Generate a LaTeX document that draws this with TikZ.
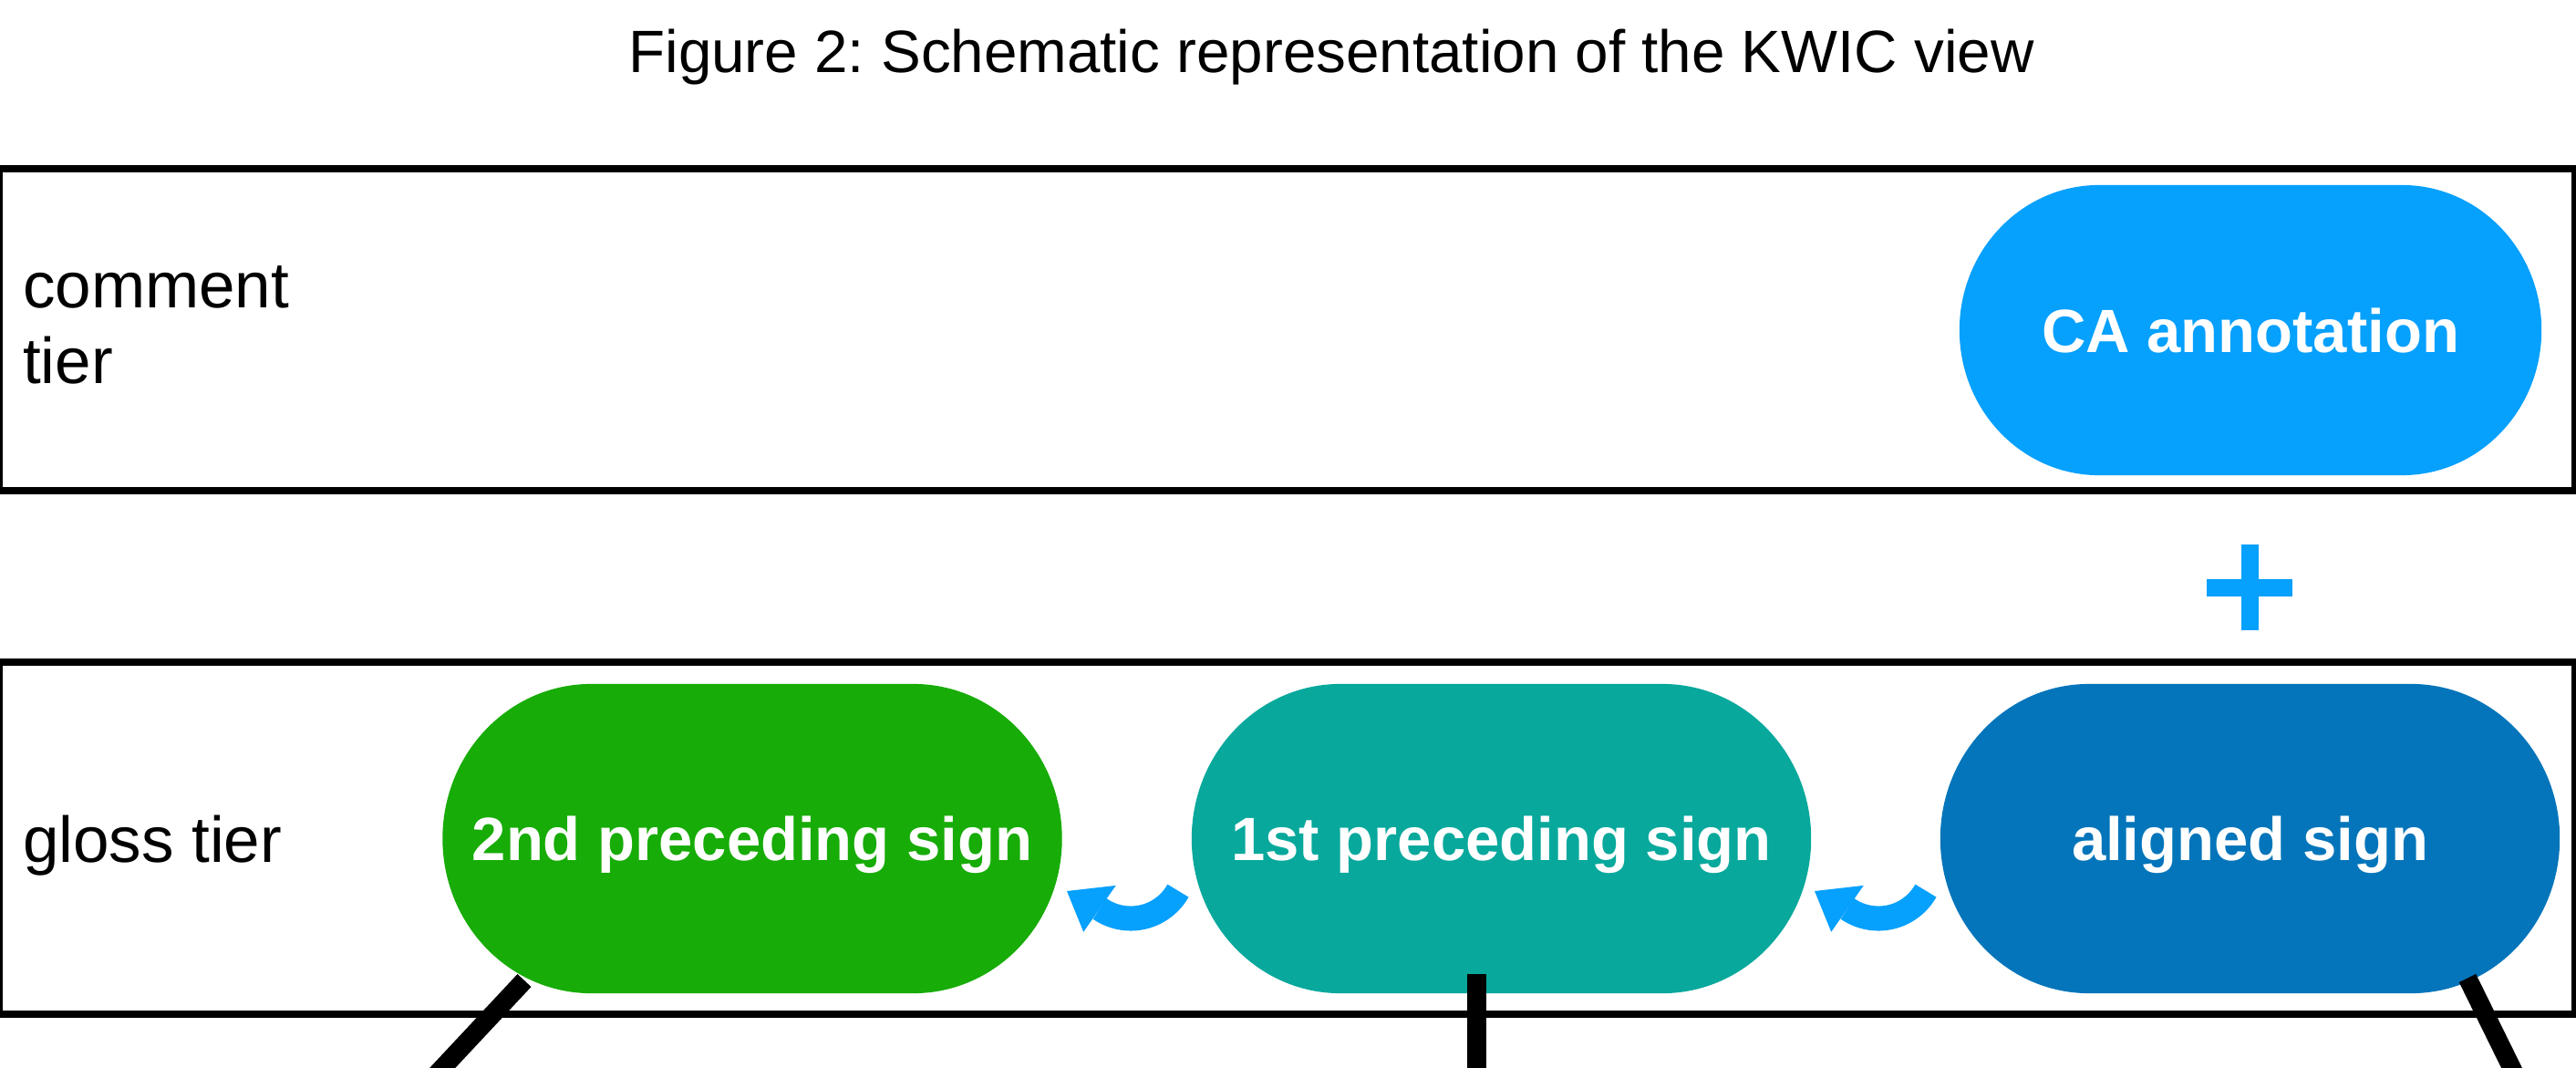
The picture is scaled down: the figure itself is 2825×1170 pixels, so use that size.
\documentclass[tikz,border=0pt]{standalone}
\usepackage{fontspec}
\setmainfont{Liberation Sans}
\usetikzlibrary{calc,backgrounds}
\frenchspacing
\definecolor{cablue}{RGB}{6,160,253}
\definecolor{grtwo}{RGB}{23,172,7}
\definecolor{tealone}{RGB}{8,168,156}
\definecolor{alblue}{RGB}{4,117,186}
\newcommand\titlefont{\fontsize{18.64pt}{23.6pt}\selectfont}
\newcommand\regfont{\fontsize{20.2pt}{23.6pt}\selectfont}
\newcommand\pillfont{\fontsize{19.06pt}{23pt}\selectfont\bfseries}
% stadium with elliptic ends behind a node: node, colour, x radius, y radius
\newcommand\pillfill[4]{%
  \fill[#2] ($(#1.north west)+(#3,0)$) -- ($(#1.north east)+(-#3,0)$)
    arc[start angle=90,end angle=-90,x radius=#3,y radius=#4]
    -- ($(#1.south west)+(#3,0)$)
    arc[start angle=270,end angle=90,x radius=#3,y radius=#4] -- cycle;}
% curled arrow around a centre coordinate
\newcommand\curlarrow[1]{%
  \draw[cablue, line width=0.27cm] ($(#1)+(-29.3:0.595cm)$)
    arc[start angle=-29.3, end angle=-124.9, radius=0.595cm];
  \fill[cablue] ($(#1)+(-124.9:0.285cm)$) -- ($(#1)+(-124.9:0.905cm)$)
    -- ($(#1)+(-70,-29.5)$) -- cycle;}
\tikzset{
  tierbox/.style={draw=black, line width=0.086cm, inner sep=0pt, outer sep=0pt, minimum width=28.23cm},
  pill/.style={inner sep=0pt, outer sep=0pt, text=white, font=\pillfont, text height=13.65pt, text depth=0pt},
  glosspill/.style={pill, minimum width=6.79cm, minimum height=3.39cm},
  label/.style={inner sep=0pt, outer sep=0pt, font=\regfont, text=black},
  bar/.style={draw=black, line width=0.205cm},
  plusbar/.style={draw=cablue, line width=0.19cm}
}
\begin{document}
\begin{tikzpicture}[x=0.01cm, y=0.01cm]
\useasboundingbox (0,0) rectangle (2825,-1170);

% title
\node[label, font=\titlefont, anchor=base] (title) at (1460,-80) {Figure 2: Schematic representation of the KWIC view};

% tier boxes
\node[tierbox, minimum height=3.53cm] (cbox) at (1411.5,-361.5) {};
\node[tierbox, minimum height=3.86cm] (gbox) at (1411.5,-919) {};

% tier labels
\node[label, anchor=base west, align=left] (ctier) at (25,-420) {comment\\tier};
\node[label, anchor=base west] (gtier) at (25,-945) {gloss tier};

% pills
\node[pill, minimum width=6.38cm, minimum height=3.18cm] (ca) at (2468,-362) {CA annotation};
\node[glosspill] (p2) at (825,-919.5) {2nd preceding sign};
\node[glosspill] (p1) at (1646.5,-919.5) {1st preceding sign};
\node[glosspill] (al) at (2467.5,-919.5) {aligned sign};

\begin{scope}[on background layer]
  \pillfill{ca}{cablue}{1.53cm}{1.59cm}
  \pillfill{p2}{grtwo}{1.63cm}{1.695cm}
  \pillfill{p1}{tealone}{1.63cm}{1.695cm}
  \pillfill{al}{alblue}{1.63cm}{1.695cm}
\end{scope}

% plus between CA annotation and aligned sign
\coordinate (plus) at (2467,-644);
\draw[plusbar] ($(plus)+(-47,0)$) -- ($(plus)+(47,0)$);
\draw[plusbar] ($(plus)+(0,47)$) -- ($(plus)+(0,-47)$);

% curled arrows
\coordinate (arrowA) at (1240,-947.5);
\coordinate (arrowB) at (2060,-947.5);
\curlarrow{arrowA}
\curlarrow{arrowB}

% black bars leaving the gloss pills
\coordinate (endtwo) at (458,-1200);
\coordinate (endone) at (1619.5,-1200);
\coordinate (endal) at (2768.8,-1200);
\draw[bar] ($(p2.center)+(-250,-155.5)$) -- (endtwo);
\draw[bar] ($(p1.center)+(-27,-148.5)$) -- (endone);
\draw[bar] ($(al.center)+(238.5,-153)$) -- (endal);
\end{tikzpicture}
\end{document}
